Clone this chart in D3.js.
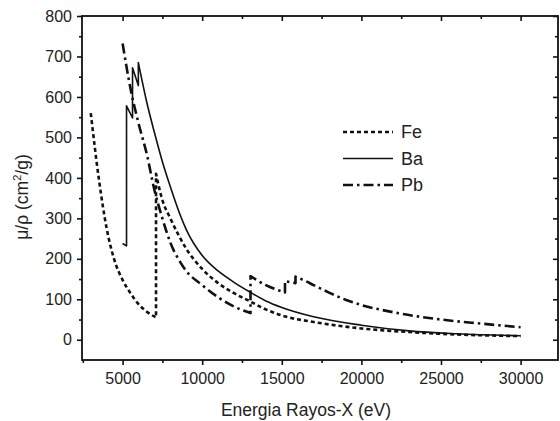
<!DOCTYPE html>
<html><head><meta charset="utf-8">
<script src="https://cdn.jsdelivr.net/npm/d3@7"></script>
<style>body{margin:0;background:#fff}svg{display:block}text{font-family:"Liberation Sans",Arial,sans-serif;fill:#222}</style>
</head><body><svg id="c" width="560" height="421"></svg>
<script>
const feEnergy = [3000,3500,4000,4500,5000,5500,6000,6500,7100,7100,7500,8000,9000,10000,11000,12000,13000,14000,15000,17000,20000,23000,26000,30000];
const feValue  = [560,400,275,195,148,115,88,70,55,410,345,300,225,175,140,115,95,75,60,44,28,19,13,9];
const baEnergy = [5000,5247,5247,5624,5624,5989,5989,6500,7000,7500,8000,8600,9000,10000,11000,12000,13000,14000,15000,17000,20000,23000,26000,30000];
const baValue  = [238,232,578,548,672,628,685,590,512,440,378,310,272,208,170,142,118,96,80,57,36,22,15,10];
const pbEnergy = [5000,5500,6000,6500,7000,7500,8000,8600,9000,10000,11000,12000,13035,13035,14000,15200,15200,15861,15861,16500,17000,18000,19000,20000,22000,25000,27500,30000];
const pbValue  = [732,620,535,462,370,300,240,193,170,135,105,82,66,157,135,117,145,140,156,145,135,116,99,86,68,50,40,31];
const seriesNames = ["Fe","Ba","Pb"];
const xTicks = [5000,10000,15000,20000,25000,30000];
const yTicks = [0,100,200,300,400,500,600,700,800];
const xLabel = "Energia Rayos-X (eV)";

const svg = d3.select("#c");
const L=82,T=16,R=558,B=360;
const x = d3.scaleLinear().domain([2450,32350]).range([L,R]);
const y = d3.scaleLinear().domain([-50,800]).range([B,T]);
const ink="#111";
const styles = {
  Fe:{dash:"4,3",w:2.6},
  Ba:{dash:null,w:1.6},
  Pb:{dash:"10,4,2.5,4",w:2.6}
};
const data = {
  Fe: feEnergy.map((e,i)=>[e,feValue[i]]),
  Ba: baEnergy.map((e,i)=>[e,baValue[i]]),
  Pb: pbEnergy.map((e,i)=>[e,pbValue[i]])
};
const line = d3.line().x(d=>x(d[0])).y(d=>y(d[1])).curve(d3.curveMonotoneX);
const lineLin = d3.line().x(d=>x(d[0])).y(d=>y(d[1]));
function drawSeries(name){
  const pts=data[name];
  const segs=[];let cur=[pts[0]];
  for(let i=1;i<pts.length;i++){
    if(pts[i][0]===pts[i-1][0]){segs.push(cur);segs.push([pts[i-1],pts[i]]);cur=[pts[i]];}
    else cur.push(pts[i]);
  }
  segs.push(cur);
  let dstr="";
  segs.forEach((s,k)=>{
    let p = s.length>2? line(s): lineLin(s);
    if(k>0) p = "L"+p.slice(1);
    dstr+=p;
  });
  svg.append("path").attr("d",dstr).attr("fill","none").attr("stroke",ink)
    .attr("stroke-width",styles[name].w).attr("stroke-dasharray",styles[name].dash)
    .attr("stroke-linejoin","round");
}
seriesNames.forEach(drawSeries);

const gB = svg.append("g").attr("transform",`translate(0,${B})`)
  .call(d3.axisBottom(x).tickValues(xTicks).tickSize(5).tickPadding(8).tickFormat(d3.format("d")));
const gBm = svg.append("g").attr("transform",`translate(0,${B})`)
  .call(d3.axisBottom(x).tickValues([2500,7500,12500,17500,22500,27500]).tickSize(3).tickFormat(""));
const gT = svg.append("g").attr("transform",`translate(0,${T})`)
  .call(d3.axisBottom(x).tickValues(xTicks).tickSize(5).tickFormat(""));
const gTm = svg.append("g").attr("transform",`translate(0,${T})`)
  .call(d3.axisBottom(x).tickValues([7500,12500,17500,22500,27500]).tickSize(3).tickFormat(""));
const gL = svg.append("g").attr("transform",`translate(${L},0)`)
  .call(d3.axisLeft(y).tickValues(yTicks).tickSize(5).tickPadding(5));
const gLm = svg.append("g").attr("transform",`translate(${L},0)`)
  .call(d3.axisLeft(y).tickValues([50,150,250,350,450,550,650,750]).tickSize(3).tickFormat(""));
const gR = svg.append("g").attr("transform",`translate(${R},0)`)
  .call(d3.axisLeft(y).tickValues(yTicks).tickSize(5).tickFormat(""));
const gRm = svg.append("g").attr("transform",`translate(${R},0)`)
  .call(d3.axisLeft(y).tickValues([50,150,250,350,450,550,650,750]).tickSize(3).tickFormat(""));
[gB,gBm,gT,gTm,gL,gLm,gR,gRm].forEach(g=>{
  g.select(".domain").remove();
  g.selectAll(".tick line").attr("stroke",ink).attr("stroke-width",1.6);
  g.selectAll("text").attr("font-size",16).attr("fill","#222").style("font-family","Liberation Sans, Arial, sans-serif");
});
svg.append("rect").attr("x",L).attr("y",T).attr("width",R-L).attr("height",B-T)
  .attr("fill","none").attr("stroke",ink).attr("stroke-width",1.8);

svg.append("text").attr("x",306).attr("y",416).attr("text-anchor","middle")
  .attr("font-size",17.5).text(xLabel);
const yl = svg.append("text").attr("transform","translate(28,197) rotate(-90)").attr("text-anchor","middle").attr("font-size",17.5);
yl.append("tspan").text("\u03bc/\u03c1  (cm");
yl.append("tspan").attr("font-size",11).attr("dy",-7).text("2");
yl.append("tspan").attr("dy",7).text("/g)");

const lg = svg.append("g");
seriesNames.forEach((n,i)=>{
  const yy = 132 + i*26.5;
  lg.append("line").attr("x1",343).attr("x2",393).attr("y1",yy).attr("y2",yy)
    .attr("stroke",ink).attr("stroke-width",styles[n].w).attr("stroke-dasharray",styles[n].dash);
  lg.append("text").attr("x",401).attr("y",yy+6).attr("font-size",18).text(n);
});
</script></body></html>
